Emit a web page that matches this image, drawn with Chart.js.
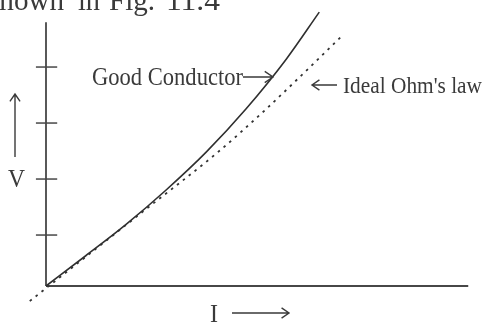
<!DOCTYPE html>
<html>
<head>
<meta charset="utf-8">
<script src="https://cdn.jsdelivr.net/npm/chart.js@4/dist/chart.umd.min.js"></script>
<style>
  html, body { margin: 0; padding: 0; background: #fff; }
  #c { display: block; }
</style>
</head>
<body>
<canvas id="c" width="486" height="323"></canvas>
<script>
// ---- data (units: 1 = one V-tick spacing) ----
const goodI  = [0, 0.71, 1.43, 2.14, 2.86, 3.57, 4.29, 4.88];
const goodV  = [0, 0.54, 1.10, 1.71, 2.39, 3.16, 4.05, 4.89];
const idealI = [-0.29, 1.77, 3.07, 3.91, 4.57, 5.27];
const idealV = [-0.27, 1.36, 2.39, 3.14, 3.77, 4.45];
const vTicks = [0.91, 1.91, 2.91, 3.91];
const labelGood  = 'Good Conductor';
const labelIdeal = "Ideal Ohm's law";
const labelV = 'V';
const labelI = 'I';
const captionWords = ['shown', 'in', 'Fig.', '11.4'];

const xMin = -46 / 56, xMax = 440 / 56;
const yMin = -37 / 56, yMax = 286 / 56;
const xAxisEnd = 7.54, yAxisTop = 4.71;

const ink = '#3a3a3a';
const serif = '"Liberation Serif", "DejaVu Serif", serif';

function drawFitText(ctx, str, x, y, size, width) {
  ctx.save();
  ctx.font = size + 'px ' + serif;
  const w = ctx.measureText(str).width;
  ctx.translate(x, y);
  ctx.scale(width / w, 1);
  ctx.textBaseline = 'alphabetic';
  ctx.textAlign = 'left';
  ctx.fillText(str, 0, 0);
  ctx.restore();
}

function arrow(ctx, x1, y1, x2, y2, head) {
  const a = Math.atan2(y2 - y1, x2 - x1);
  ctx.beginPath();
  ctx.moveTo(x1, y1);
  ctx.lineTo(x2, y2);
  ctx.moveTo(x2 - head * Math.cos(a - 0.6), y2 - head * Math.sin(a - 0.6));
  ctx.lineTo(x2, y2);
  ctx.lineTo(x2 - head * Math.cos(a + 0.6), y2 - head * Math.sin(a + 0.6));
  ctx.stroke();
}

const decor = {
  id: 'decor',
  beforeDatasetsDraw(chart) {
    const ctx = chart.ctx;
    const xs = chart.scales.x, ys = chart.scales.y;
    const ox = xs.getPixelForValue(0), oy = ys.getPixelForValue(0);
    ctx.save();
    ctx.strokeStyle = '#474747';
    ctx.lineWidth = 1.8;
    ctx.beginPath();
    ctx.moveTo(ox, ys.getPixelForValue(yAxisTop));
    ctx.lineTo(ox, oy);
    ctx.moveTo(ox, oy);
    ctx.lineTo(xs.getPixelForValue(xAxisEnd), oy);
    ctx.stroke();
    ctx.lineWidth = 1.5;
    vTicks.forEach(v => {
      const py = ys.getPixelForValue(v);
      ctx.beginPath();
      ctx.moveTo(xs.getPixelForValue(-0.18), py);
      ctx.lineTo(xs.getPixelForValue(0.2), py);
      ctx.stroke();
    });
    ctx.restore();
  },
  afterDatasetsDraw(chart) {
    const ctx = chart.ctx;
    ctx.save();
    ctx.fillStyle = ink;
    ctx.strokeStyle = ink;
    ctx.lineWidth = 1.4;
    // caption fragment cut by the top edge (justified words)
    const capX = [-12, 78, 109, 166];
    const capW = [76, 22, 46, 54];
    captionWords.forEach((w, i) => drawFitText(ctx, w, capX[i], 10, 29, capW[i]));
    drawFitText(ctx, labelGood, 92, 85, 25, 151);
    arrow(ctx, 243, 77, 273, 77, 10);
    drawFitText(ctx, labelIdeal, 343, 93, 24, 139);
    arrow(ctx, 337, 85, 312, 85, 9);
    drawFitText(ctx, labelV, 8, 187, 26, 17);
    arrow(ctx, 15, 157, 15, 94, 9);
    drawFitText(ctx, labelI, 210, 322, 25, 8);
    arrow(ctx, 232, 313, 289, 313, 9);
    ctx.restore();
  }
};

new Chart(document.getElementById('c'), {
  type: 'scatter',
  data: {
    datasets: [
      {
        label: labelGood,
        data: goodI.map((x, i) => ({ x, y: goodV[i] })),
        showLine: true,
        borderColor: '#2f2f2f',
        borderWidth: 1.6,
        pointRadius: 0,
        cubicInterpolationMode: 'monotone'
      },
      {
        label: labelIdeal,
        data: idealI.map((x, i) => ({ x, y: idealV[i] })),
        showLine: true,
        borderColor: '#333',
        borderWidth: 1.8,
        borderDash: [2.5, 5],
        pointRadius: 0,
        cubicInterpolationMode: 'monotone'
      }
    ]
  },
  options: {
    responsive: false,
    animation: false,
    layout: { padding: 0 },
    plugins: { legend: { display: false }, tooltip: { enabled: false } },
    scales: {
      x: { type: 'linear', display: false, min: xMin, max: xMax },
      y: { type: 'linear', display: false, min: yMin, max: yMax }
    }
  },
  plugins: [decor]
});
</script>
</body>
</html>
